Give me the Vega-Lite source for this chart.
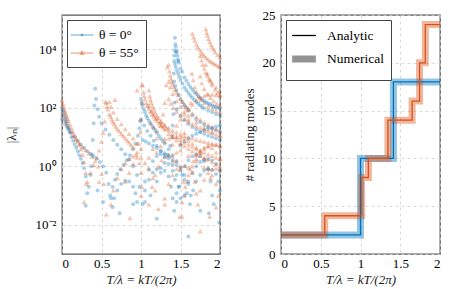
{
"$schema": "https://vega.github.io/schema/vega-lite/v6.json",
"background": "white",
"padding": {"left": 4, "top": 8, "right": 3, "bottom": 1},
"spacing": 18,
"config": {
  "font": "Times New Roman, Liberation Serif, serif",
  "view": {"stroke": "#555", "strokeWidth": 1.3},
  "axis": {"labelFont": "Times New Roman, Liberation Serif, serif", "titleFont": "Times New Roman, Liberation Serif, serif", "labelFontSize": 13, "titleFontSize": 13, "titleFontWeight": "normal", "labelColor": "#000", "titleColor": "#222", "domain": false, "ticks": false, "gridDash": [3, 3], "gridColor": "#cfcfcf", "gridWidth": 0.8, "labelPadding": 6},
  "axisX": {"labelPadding": 3, "titlePadding": 3},
  "legend": {"labelFont": "Times New Roman, Liberation Serif, serif", "labelFontSize": 13.5, "labelColor": "#000"}
},
"resolve": {"scale": {"color": "independent", "shape": "independent", "opacity": "independent", "strokeWidth": "independent"}},
"hconcat": [
{
  "width": 158, "height": 239,
  "data": {"values": [
{"t":0,"l":100,"g":"θ = 0°"},{"t":0.01,"l":80,"g":"θ = 0°"},{"t":0.02,"l":65,"g":"θ = 0°"},{"t":0.03,"l":52,"g":"θ = 0°"},{"t":0.04,"l":42,"g":"θ = 0°"},{"t":0.05,"l":35,"g":"θ = 0°"},{"t":0.06,"l":29,"g":"θ = 0°"},{"t":0.07,"l":24,"g":"θ = 0°"},{"t":0.08,"l":20,"g":"θ = 0°"},{"t":0.09,"l":17,"g":"θ = 0°"},{"t":0.1,"l":14,"g":"θ = 0°"},{"t":0.12,"l":10,"g":"θ = 0°"},{"t":0.14,"l":7.5,"g":"θ = 0°"},{"t":0.16,"l":5.6,"g":"θ = 0°"},{"t":0.18,"l":4.3,"g":"θ = 0°"},{"t":0.2,"l":3.2,"g":"θ = 0°"},{"t":0.22,"l":2.4,"g":"θ = 0°"},{"t":0.24,"l":1.8,"g":"θ = 0°"},{"t":0.26,"l":1.3,"g":"θ = 0°"},{"t":0.28,"l":0.85,"g":"θ = 0°"},{"t":0.3,"l":0.45,"g":"θ = 0°"},{"t":0.32,"l":0.12,"g":"θ = 0°"},
{"t":0,"l":40,"g":"θ = 0°"},{"t":0.04,"l":28,"g":"θ = 0°"},{"t":0.08,"l":20,"g":"θ = 0°"},{"t":0.12,"l":14,"g":"θ = 0°"},{"t":0.16,"l":10,"g":"θ = 0°"},{"t":0.2,"l":7.5,"g":"θ = 0°"},{"t":0.24,"l":5.6,"g":"θ = 0°"},{"t":0.28,"l":4.3,"g":"θ = 0°"},{"t":0.32,"l":3.3,"g":"θ = 0°"},{"t":0.36,"l":2.7,"g":"θ = 0°"},{"t":0.4,"l":2.2,"g":"θ = 0°"},{"t":0.44,"l":1.8,"g":"θ = 0°"},{"t":0.48,"l":1.4,"g":"θ = 0°"},{"t":0.52,"l":1,"g":"θ = 0°"},{"t":0.56,"l":0.6,"g":"θ = 0°"},{"t":0.59,"l":0.25,"g":"θ = 0°"},{"t":0.61,"l":0.1,"g":"θ = 0°"},
{"t":0.34,"l":0.2,"g":"θ = 0°"},{"t":0.36,"l":0.5,"g":"θ = 0°"},{"t":0.37,"l":1,"g":"θ = 0°"},{"t":0.38,"l":2.5,"g":"θ = 0°"},{"t":0.39,"l":8,"g":"θ = 0°"},{"t":0.4,"l":30,"g":"θ = 0°"},{"t":0.41,"l":120,"g":"θ = 0°"},{"t":0.42,"l":450,"g":"θ = 0°"},{"t":0.43,"l":200,"g":"θ = 0°"},{"t":0.45,"l":90,"g":"θ = 0°"},{"t":0.47,"l":50,"g":"θ = 0°"},{"t":0.5,"l":30,"g":"θ = 0°"},{"t":0.55,"l":18,"g":"θ = 0°"},{"t":0.6,"l":12,"g":"θ = 0°"},{"t":0.65,"l":8,"g":"θ = 0°"},{"t":0.7,"l":5.5,"g":"θ = 0°"},{"t":0.75,"l":3.8,"g":"θ = 0°"},{"t":0.8,"l":2.6,"g":"θ = 0°"},{"t":0.85,"l":1.7,"g":"θ = 0°"},{"t":0.9,"l":1,"g":"θ = 0°"},{"t":0.95,"l":0.5,"g":"θ = 0°"},{"t":0.98,"l":0.2,"g":"θ = 0°"},
{"t":0.62,"l":0.08,"g":"θ = 0°"},{"t":0.64,"l":0.2,"g":"θ = 0°"},{"t":0.67,"l":0.35,"g":"θ = 0°"},{"t":0.7,"l":0.55,"g":"θ = 0°"},{"t":0.74,"l":0.8,"g":"θ = 0°"},{"t":0.78,"l":1.1,"g":"θ = 0°"},{"t":0.82,"l":1.6,"g":"θ = 0°"},{"t":0.86,"l":2.4,"g":"θ = 0°"},{"t":0.9,"l":3.8,"g":"θ = 0°"},{"t":0.93,"l":6,"g":"θ = 0°"},{"t":0.96,"l":11,"g":"θ = 0°"},{"t":0.98,"l":20,"g":"θ = 0°"},{"t":0.99,"l":35,"g":"θ = 0°"},
{"t":0.64,"l":0.04,"g":"θ = 0°"},{"t":0.66,"l":0.08,"g":"θ = 0°"},{"t":0.7,"l":0.15,"g":"θ = 0°"},{"t":0.75,"l":0.25,"g":"θ = 0°"},{"t":0.8,"l":0.32,"g":"θ = 0°"},{"t":0.85,"l":0.3,"g":"θ = 0°"},{"t":0.9,"l":0.2,"g":"θ = 0°"},{"t":0.93,"l":0.12,"g":"θ = 0°"},{"t":0.95,"l":0.06,"g":"θ = 0°"},
{"t":1,"l":200,"g":"θ = 0°"},{"t":1.01,"l":150,"g":"θ = 0°"},{"t":1.02,"l":120,"g":"θ = 0°"},{"t":1.035,"l":90,"g":"θ = 0°"},{"t":1.05,"l":70,"g":"θ = 0°"},{"t":1.065,"l":55,"g":"θ = 0°"},{"t":1.08,"l":45,"g":"θ = 0°"},{"t":1.1,"l":36,"g":"θ = 0°"},{"t":1.12,"l":30,"g":"θ = 0°"},{"t":1.14,"l":24,"g":"θ = 0°"},{"t":1.16,"l":20,"g":"θ = 0°"},{"t":1.18,"l":17,"g":"θ = 0°"},{"t":1.2,"l":14,"g":"θ = 0°"},{"t":1.225,"l":11,"g":"θ = 0°"},{"t":1.25,"l":9,"g":"θ = 0°"},{"t":1.275,"l":7.3,"g":"θ = 0°"},{"t":1.3,"l":6,"g":"θ = 0°"},{"t":1.35,"l":3.8,"g":"θ = 0°"},{"t":1.4,"l":2.4,"g":"θ = 0°"},{"t":1.45,"l":1.5,"g":"θ = 0°"},{"t":1.5,"l":0.9,"g":"θ = 0°"},{"t":1.55,"l":0.5,"g":"θ = 0°"},{"t":1.6,"l":0.25,"g":"θ = 0°"},{"t":1.63,"l":0.1,"g":"θ = 0°"},
{"t":1,"l":40,"g":"θ = 0°"},{"t":1.04,"l":25,"g":"θ = 0°"},{"t":1.08,"l":16,"g":"θ = 0°"},{"t":1.12,"l":11,"g":"θ = 0°"},{"t":1.16,"l":7.5,"g":"θ = 0°"},{"t":1.2,"l":5,"g":"θ = 0°"},{"t":1.25,"l":3.2,"g":"θ = 0°"},{"t":1.3,"l":2,"g":"θ = 0°"},{"t":1.35,"l":1.2,"g":"θ = 0°"},{"t":1.4,"l":0.7,"g":"θ = 0°"},{"t":1.43,"l":0.35,"g":"θ = 0°"},{"t":1.45,"l":0.12,"g":"θ = 0°"},
{"t":1.02,"l":0.05,"g":"θ = 0°"},{"t":1.05,"l":0.15,"g":"θ = 0°"},{"t":1.1,"l":0.35,"g":"θ = 0°"},{"t":1.15,"l":0.6,"g":"θ = 0°"},{"t":1.2,"l":0.8,"g":"θ = 0°"},{"t":1.25,"l":0.85,"g":"θ = 0°"},{"t":1.3,"l":0.7,"g":"θ = 0°"},{"t":1.35,"l":0.45,"g":"θ = 0°"},{"t":1.38,"l":0.2,"g":"θ = 0°"},{"t":1.4,"l":0.08,"g":"θ = 0°"},
{"t":1.05,"l":0.3,"g":"θ = 0°"},{"t":1.1,"l":0.8,"g":"θ = 0°"},{"t":1.15,"l":1.5,"g":"θ = 0°"},{"t":1.2,"l":2.2,"g":"θ = 0°"},{"t":1.25,"l":2.6,"g":"θ = 0°"},{"t":1.3,"l":2.5,"g":"θ = 0°"},{"t":1.35,"l":1.9,"g":"θ = 0°"},{"t":1.4,"l":1.1,"g":"θ = 0°"},{"t":1.45,"l":0.5,"g":"θ = 0°"},{"t":1.48,"l":0.2,"g":"θ = 0°"},
{"t":1.2,"l":0.3,"g":"θ = 0°"},{"t":1.25,"l":0.6,"g":"θ = 0°"},{"t":1.3,"l":1.3,"g":"θ = 0°"},{"t":1.34,"l":2.5,"g":"θ = 0°"},{"t":1.37,"l":5,"g":"θ = 0°"},{"t":1.39,"l":10,"g":"θ = 0°"},{"t":1.4,"l":25,"g":"θ = 0°"},{"t":1.41,"l":60,"g":"θ = 0°"},
{"t":1.43,"l":25000,"g":"θ = 0°"},{"t":1.44,"l":12000,"g":"θ = 0°"},{"t":1.45,"l":8500,"g":"θ = 0°"},{"t":1.46,"l":6000,"g":"θ = 0°"},{"t":1.47,"l":4500,"g":"θ = 0°"},{"t":1.48,"l":3500,"g":"θ = 0°"},{"t":1.5,"l":2200,"g":"θ = 0°"},{"t":1.52,"l":1700,"g":"θ = 0°"},{"t":1.55,"l":1100,"g":"θ = 0°"},{"t":1.575,"l":850,"g":"θ = 0°"},{"t":1.6,"l":650,"g":"θ = 0°"},{"t":1.625,"l":520,"g":"θ = 0°"},{"t":1.65,"l":420,"g":"θ = 0°"},{"t":1.675,"l":350,"g":"θ = 0°"},{"t":1.7,"l":300,"g":"θ = 0°"},{"t":1.725,"l":255,"g":"θ = 0°"},{"t":1.75,"l":220,"g":"θ = 0°"},{"t":1.775,"l":190,"g":"θ = 0°"},{"t":1.8,"l":170,"g":"θ = 0°"},{"t":1.825,"l":155,"g":"θ = 0°"},{"t":1.85,"l":140,"g":"θ = 0°"},{"t":1.875,"l":130,"g":"θ = 0°"},{"t":1.9,"l":120,"g":"θ = 0°"},{"t":1.925,"l":112,"g":"θ = 0°"},{"t":1.95,"l":105,"g":"θ = 0°"},{"t":1.975,"l":100,"g":"θ = 0°"},{"t":2,"l":95,"g":"θ = 0°"},
{"t":1.42,"l":4000,"g":"θ = 0°"},{"t":1.43,"l":3200,"g":"θ = 0°"},{"t":1.44,"l":2500,"g":"θ = 0°"},{"t":1.455,"l":1900,"g":"θ = 0°"},{"t":1.47,"l":1500,"g":"θ = 0°"},{"t":1.485,"l":1150,"g":"θ = 0°"},{"t":1.5,"l":900,"g":"θ = 0°"},{"t":1.525,"l":680,"g":"θ = 0°"},{"t":1.55,"l":500,"g":"θ = 0°"},{"t":1.575,"l":400,"g":"θ = 0°"},{"t":1.6,"l":320,"g":"θ = 0°"},{"t":1.625,"l":265,"g":"θ = 0°"},{"t":1.65,"l":220,"g":"θ = 0°"},{"t":1.675,"l":185,"g":"θ = 0°"},{"t":1.7,"l":160,"g":"θ = 0°"},{"t":1.725,"l":138,"g":"θ = 0°"},{"t":1.75,"l":120,"g":"θ = 0°"},{"t":1.775,"l":106,"g":"θ = 0°"},{"t":1.8,"l":95,"g":"θ = 0°"},{"t":1.85,"l":80,"g":"θ = 0°"},{"t":1.9,"l":70,"g":"θ = 0°"},{"t":1.95,"l":60,"g":"θ = 0°"},{"t":2,"l":55,"g":"θ = 0°"},
{"t":1.42,"l":800,"g":"θ = 0°"},{"t":1.435,"l":560,"g":"θ = 0°"},{"t":1.45,"l":400,"g":"θ = 0°"},{"t":1.475,"l":280,"g":"θ = 0°"},{"t":1.5,"l":200,"g":"θ = 0°"},{"t":1.525,"l":155,"g":"θ = 0°"},{"t":1.55,"l":120,"g":"θ = 0°"},{"t":1.575,"l":98,"g":"θ = 0°"},{"t":1.6,"l":80,"g":"θ = 0°"},{"t":1.65,"l":55,"g":"θ = 0°"},{"t":1.7,"l":40,"g":"θ = 0°"},{"t":1.75,"l":32,"g":"θ = 0°"},{"t":1.8,"l":26,"g":"θ = 0°"},{"t":1.85,"l":22,"g":"θ = 0°"},{"t":1.9,"l":19,"g":"θ = 0°"},{"t":1.95,"l":17,"g":"θ = 0°"},{"t":2,"l":15,"g":"θ = 0°"},
{"t":1.42,"l":150,"g":"θ = 0°"},{"t":1.45,"l":90,"g":"θ = 0°"},{"t":1.5,"l":55,"g":"θ = 0°"},{"t":1.55,"l":38,"g":"θ = 0°"},{"t":1.6,"l":28,"g":"θ = 0°"},{"t":1.65,"l":22,"g":"θ = 0°"},{"t":1.7,"l":18,"g":"θ = 0°"},{"t":1.75,"l":15,"g":"θ = 0°"},{"t":1.8,"l":13,"g":"θ = 0°"},{"t":1.85,"l":11,"g":"θ = 0°"},{"t":1.9,"l":10,"g":"θ = 0°"},{"t":1.95,"l":9,"g":"θ = 0°"},{"t":2,"l":8,"g":"θ = 0°"},
{"t":1.02,"l":8,"g":"θ = 0°"},{"t":1.06,"l":7,"g":"θ = 0°"},{"t":1.1,"l":6,"g":"θ = 0°"},{"t":1.15,"l":5,"g":"θ = 0°"},{"t":1.2,"l":4.2,"g":"θ = 0°"},{"t":1.25,"l":3.5,"g":"θ = 0°"},{"t":1.3,"l":2.8,"g":"θ = 0°"},{"t":1.35,"l":2.2,"g":"θ = 0°"},{"t":1.4,"l":1.6,"g":"θ = 0°"},{"t":1.45,"l":1.1,"g":"θ = 0°"},{"t":1.5,"l":0.7,"g":"θ = 0°"},{"t":1.55,"l":0.35,"g":"θ = 0°"},{"t":1.58,"l":0.12,"g":"θ = 0°"},
{"t":1.5,"l":5,"g":"θ = 0°"},{"t":1.55,"l":7,"g":"θ = 0°"},{"t":1.6,"l":9,"g":"θ = 0°"},{"t":1.65,"l":11,"g":"θ = 0°"},{"t":1.7,"l":13,"g":"θ = 0°"},{"t":1.75,"l":15,"g":"θ = 0°"},{"t":1.8,"l":17,"g":"θ = 0°"},{"t":1.85,"l":19,"g":"θ = 0°"},{"t":1.9,"l":21,"g":"θ = 0°"},{"t":1.95,"l":23,"g":"θ = 0°"},{"t":2,"l":25,"g":"θ = 0°"},
{"t":1.45,"l":0.06,"g":"θ = 0°"},{"t":1.48,"l":0.2,"g":"θ = 0°"},{"t":1.52,"l":0.5,"g":"θ = 0°"},{"t":1.56,"l":1,"g":"θ = 0°"},{"t":1.6,"l":1.6,"g":"θ = 0°"},{"t":1.65,"l":2.2,"g":"θ = 0°"},{"t":1.7,"l":2.5,"g":"θ = 0°"},{"t":1.75,"l":2.2,"g":"θ = 0°"},{"t":1.8,"l":1.5,"g":"θ = 0°"},{"t":1.85,"l":0.8,"g":"θ = 0°"},{"t":1.88,"l":0.3,"g":"θ = 0°"},{"t":1.9,"l":0.1,"g":"θ = 0°"},
{"t":1.55,"l":0.1,"g":"θ = 0°"},{"t":1.6,"l":0.3,"g":"θ = 0°"},{"t":1.65,"l":0.6,"g":"θ = 0°"},{"t":1.7,"l":1,"g":"θ = 0°"},{"t":1.75,"l":1.4,"g":"θ = 0°"},{"t":1.8,"l":1.7,"g":"θ = 0°"},{"t":1.85,"l":1.8,"g":"θ = 0°"},{"t":1.9,"l":1.6,"g":"θ = 0°"},{"t":1.95,"l":1.2,"g":"θ = 0°"},{"t":2,"l":0.7,"g":"θ = 0°"},
{"t":1.62,"l":0.05,"g":"θ = 0°"},{"t":1.66,"l":0.15,"g":"θ = 0°"},{"t":1.7,"l":0.3,"g":"θ = 0°"},{"t":1.75,"l":0.5,"g":"θ = 0°"},{"t":1.8,"l":0.7,"g":"θ = 0°"},{"t":1.85,"l":0.8,"g":"θ = 0°"},{"t":1.9,"l":0.75,"g":"θ = 0°"},{"t":1.95,"l":0.55,"g":"θ = 0°"},{"t":1.98,"l":0.3,"g":"θ = 0°"},{"t":2,"l":0.15,"g":"θ = 0°"},
{"t":1.415,"l":1500,"g":"θ = 0°"},{"t":1.42,"l":6000,"g":"θ = 0°"},{"t":1.425,"l":9000,"g":"θ = 0°"},{"t":1.435,"l":15000,"g":"θ = 0°"},{"t":1.45,"l":8000,"g":"θ = 0°"},{"t":1.47,"l":4000,"g":"θ = 0°"},
{"t":0.3,"l":0.045,"g":"θ = 0°"},{"t":0.45,"l":0.15,"g":"θ = 0°"},{"t":0.52,"l":0.06,"g":"θ = 0°"},{"t":0.73,"l":0.025,"g":"θ = 0°"},{"t":0.9,"l":0.05,"g":"θ = 0°"},{"t":1.05,"l":0.06,"g":"θ = 0°"},{"t":1.12,"l":0.1,"g":"θ = 0°"},{"t":1.2,"l":0.016,"g":"θ = 0°"},{"t":1.42,"l":0.03,"g":"θ = 0°"},{"t":1.5,"l":0.08,"g":"θ = 0°"},{"t":1.6,"l":0.004,"g":"θ = 0°"},{"t":1.75,"l":0.03,"g":"θ = 0°"},{"t":1.86,"l":0.025,"g":"θ = 0°"},{"t":1.99,"l":0.012,"g":"θ = 0°"},{"t":1.92,"l":0.05,"g":"θ = 0°"},
{"t":0,"l":180,"g":"θ = 55°"},{"t":0.01,"l":140,"g":"θ = 55°"},{"t":0.02,"l":110,"g":"θ = 55°"},{"t":0.03,"l":88,"g":"θ = 55°"},{"t":0.04,"l":72,"g":"θ = 55°"},{"t":0.05,"l":60,"g":"θ = 55°"},{"t":0.06,"l":50,"g":"θ = 55°"},{"t":0.07,"l":42,"g":"θ = 55°"},{"t":0.08,"l":36,"g":"θ = 55°"},{"t":0.1,"l":27,"g":"θ = 55°"},{"t":0.12,"l":20,"g":"θ = 55°"},{"t":0.14,"l":15,"g":"θ = 55°"},{"t":0.16,"l":11.5,"g":"θ = 55°"},{"t":0.18,"l":9,"g":"θ = 55°"},{"t":0.2,"l":7,"g":"θ = 55°"},{"t":0.22,"l":5.3,"g":"θ = 55°"},{"t":0.24,"l":3.8,"g":"θ = 55°"},{"t":0.26,"l":2.5,"g":"θ = 55°"},{"t":0.28,"l":1.4,"g":"θ = 55°"},{"t":0.3,"l":0.6,"g":"θ = 55°"},{"t":0.31,"l":0.25,"g":"θ = 55°"},
{"t":0,"l":60,"g":"θ = 55°"},{"t":0.03,"l":38,"g":"θ = 55°"},{"t":0.06,"l":25,"g":"θ = 55°"},{"t":0.1,"l":16,"g":"θ = 55°"},{"t":0.14,"l":11,"g":"θ = 55°"},{"t":0.18,"l":8,"g":"θ = 55°"},{"t":0.22,"l":6,"g":"θ = 55°"},{"t":0.26,"l":4.6,"g":"θ = 55°"},{"t":0.3,"l":3.6,"g":"θ = 55°"},{"t":0.34,"l":2.8,"g":"θ = 55°"},{"t":0.38,"l":2.1,"g":"θ = 55°"},{"t":0.42,"l":1.5,"g":"θ = 55°"},{"t":0.46,"l":1,"g":"θ = 55°"},{"t":0.5,"l":0.55,"g":"θ = 55°"},{"t":0.53,"l":0.25,"g":"θ = 55°"},
{"t":0.32,"l":0.3,"g":"θ = 55°"},{"t":0.36,"l":0.6,"g":"θ = 55°"},{"t":0.4,"l":1.1,"g":"θ = 55°"},{"t":0.44,"l":2,"g":"θ = 55°"},{"t":0.47,"l":3.5,"g":"θ = 55°"},{"t":0.5,"l":7,"g":"θ = 55°"},{"t":0.52,"l":14,"g":"θ = 55°"},{"t":0.54,"l":35,"g":"θ = 55°"},{"t":0.55,"l":160,"g":"θ = 55°"},
{"t":0.56,"l":150,"g":"θ = 55°"},{"t":0.57,"l":115,"g":"θ = 55°"},{"t":0.58,"l":90,"g":"θ = 55°"},{"t":0.6,"l":60,"g":"θ = 55°"},{"t":0.615,"l":50,"g":"θ = 55°"},{"t":0.63,"l":40,"g":"θ = 55°"},{"t":0.645,"l":33,"g":"θ = 55°"},{"t":0.66,"l":28,"g":"θ = 55°"},{"t":0.68,"l":23,"g":"θ = 55°"},{"t":0.7,"l":19,"g":"θ = 55°"},{"t":0.725,"l":16,"g":"θ = 55°"},{"t":0.75,"l":13,"g":"θ = 55°"},{"t":0.775,"l":11,"g":"θ = 55°"},{"t":0.8,"l":9,"g":"θ = 55°"},{"t":0.825,"l":7.6,"g":"θ = 55°"},{"t":0.85,"l":6.5,"g":"θ = 55°"},{"t":0.875,"l":5.4,"g":"θ = 55°"},{"t":0.9,"l":4.5,"g":"θ = 55°"},{"t":0.95,"l":3,"g":"θ = 55°"},{"t":1,"l":2,"g":"θ = 55°"},{"t":1.05,"l":1.3,"g":"θ = 55°"},{"t":1.1,"l":0.8,"g":"θ = 55°"},{"t":1.15,"l":0.4,"g":"θ = 55°"},{"t":1.18,"l":0.15,"g":"θ = 55°"},
{"t":0.6,"l":160,"g":"θ = 55°"},{"t":0.62,"l":110,"g":"θ = 55°"},{"t":0.65,"l":70,"g":"θ = 55°"},{"t":0.7,"l":42,"g":"θ = 55°"},{"t":0.75,"l":28,"g":"θ = 55°"},{"t":0.8,"l":19,"g":"θ = 55°"},{"t":0.85,"l":13,"g":"θ = 55°"},{"t":0.9,"l":9,"g":"θ = 55°"},{"t":0.95,"l":6,"g":"θ = 55°"},{"t":1,"l":4,"g":"θ = 55°"},
{"t":0.62,"l":0.05,"g":"θ = 55°"},{"t":0.65,"l":0.15,"g":"θ = 55°"},{"t":0.7,"l":0.4,"g":"θ = 55°"},{"t":0.75,"l":0.8,"g":"θ = 55°"},{"t":0.8,"l":1.3,"g":"θ = 55°"},{"t":0.85,"l":1.8,"g":"θ = 55°"},{"t":0.9,"l":2.2,"g":"θ = 55°"},{"t":0.95,"l":2,"g":"θ = 55°"},{"t":0.98,"l":1.3,"g":"θ = 55°"},{"t":1,"l":0.6,"g":"θ = 55°"},{"t":1.01,"l":0.2,"g":"θ = 55°"},
{"t":0.8,"l":0.3,"g":"θ = 55°"},{"t":0.85,"l":0.6,"g":"θ = 55°"},{"t":0.9,"l":1.2,"g":"θ = 55°"},{"t":0.94,"l":2.5,"g":"θ = 55°"},{"t":0.97,"l":6,"g":"θ = 55°"},{"t":0.99,"l":15,"g":"θ = 55°"},{"t":1,"l":40,"g":"θ = 55°"},{"t":1.01,"l":150,"g":"θ = 55°"},{"t":1.012,"l":600,"g":"θ = 55°"},
{"t":1.02,"l":600,"g":"θ = 55°"},{"t":1.03,"l":350,"g":"θ = 55°"},{"t":1.04,"l":260,"g":"θ = 55°"},{"t":1.05,"l":200,"g":"θ = 55°"},{"t":1.065,"l":150,"g":"θ = 55°"},{"t":1.08,"l":120,"g":"θ = 55°"},{"t":1.1,"l":95,"g":"θ = 55°"},{"t":1.12,"l":75,"g":"θ = 55°"},{"t":1.14,"l":60,"g":"θ = 55°"},{"t":1.16,"l":50,"g":"θ = 55°"},{"t":1.18,"l":42,"g":"θ = 55°"},{"t":1.2,"l":36,"g":"θ = 55°"},{"t":1.225,"l":30,"g":"θ = 55°"},{"t":1.25,"l":25,"g":"θ = 55°"},{"t":1.275,"l":21,"g":"θ = 55°"},{"t":1.3,"l":18,"g":"θ = 55°"},{"t":1.35,"l":13,"g":"θ = 55°"},{"t":1.4,"l":10,"g":"θ = 55°"},{"t":1.45,"l":7.8,"g":"θ = 55°"},{"t":1.5,"l":6,"g":"θ = 55°"},{"t":1.55,"l":4.9,"g":"θ = 55°"},{"t":1.6,"l":4,"g":"θ = 55°"},{"t":1.65,"l":3.3,"g":"θ = 55°"},{"t":1.7,"l":2.8,"g":"θ = 55°"},{"t":1.75,"l":2.4,"g":"θ = 55°"},{"t":1.8,"l":2,"g":"θ = 55°"},{"t":1.85,"l":1.7,"g":"θ = 55°"},{"t":1.9,"l":1.4,"g":"θ = 55°"},{"t":1.95,"l":1.2,"g":"θ = 55°"},{"t":2,"l":1,"g":"θ = 55°"},
{"t":1.1,"l":2,"g":"θ = 55°"},{"t":1.15,"l":4,"g":"θ = 55°"},{"t":1.2,"l":9,"g":"θ = 55°"},{"t":1.25,"l":25,"g":"θ = 55°"},{"t":1.28,"l":60,"g":"θ = 55°"},{"t":1.3,"l":150,"g":"θ = 55°"},{"t":1.32,"l":600,"g":"θ = 55°"},{"t":1.335,"l":2500,"g":"θ = 55°"},
{"t":1.1,"l":400,"g":"θ = 55°"},{"t":1.11,"l":250,"g":"θ = 55°"},{"t":1.12,"l":190,"g":"θ = 55°"},{"t":1.13,"l":150,"g":"θ = 55°"},{"t":1.145,"l":115,"g":"θ = 55°"},{"t":1.16,"l":90,"g":"θ = 55°"},{"t":1.18,"l":70,"g":"θ = 55°"},{"t":1.2,"l":55,"g":"θ = 55°"},{"t":1.225,"l":44,"g":"θ = 55°"},{"t":1.25,"l":35,"g":"θ = 55°"},{"t":1.275,"l":29,"g":"θ = 55°"},{"t":1.3,"l":24,"g":"θ = 55°"},{"t":1.325,"l":20,"g":"θ = 55°"},{"t":1.35,"l":17,"g":"θ = 55°"},{"t":1.4,"l":13,"g":"θ = 55°"},{"t":1.45,"l":10,"g":"θ = 55°"},{"t":1.5,"l":8,"g":"θ = 55°"},{"t":1.55,"l":6.6,"g":"θ = 55°"},{"t":1.6,"l":5.5,"g":"θ = 55°"},{"t":1.65,"l":4.7,"g":"θ = 55°"},{"t":1.7,"l":4,"g":"θ = 55°"},{"t":1.75,"l":3.5,"g":"θ = 55°"},{"t":1.8,"l":3,"g":"θ = 55°"},{"t":1.85,"l":2.6,"g":"θ = 55°"},{"t":1.9,"l":2.3,"g":"θ = 55°"},{"t":1.95,"l":2,"g":"θ = 55°"},{"t":2,"l":1.8,"g":"θ = 55°"},
{"t":1.1,"l":120,"g":"θ = 55°"},{"t":1.13,"l":80,"g":"θ = 55°"},{"t":1.16,"l":60,"g":"θ = 55°"},{"t":1.2,"l":45,"g":"θ = 55°"},{"t":1.25,"l":33,"g":"θ = 55°"},{"t":1.3,"l":26,"g":"θ = 55°"},{"t":1.35,"l":21,"g":"θ = 55°"},{"t":1.4,"l":17,"g":"θ = 55°"},{"t":1.45,"l":14.5,"g":"θ = 55°"},{"t":1.5,"l":12.5,"g":"θ = 55°"},{"t":1.55,"l":11,"g":"θ = 55°"},{"t":1.6,"l":10,"g":"θ = 55°"},{"t":1.65,"l":9,"g":"θ = 55°"},{"t":1.7,"l":8.2,"g":"θ = 55°"},{"t":1.75,"l":7.5,"g":"θ = 55°"},{"t":1.8,"l":7,"g":"θ = 55°"},{"t":1.85,"l":6.5,"g":"θ = 55°"},{"t":1.9,"l":6,"g":"θ = 55°"},{"t":1.95,"l":5.6,"g":"θ = 55°"},{"t":2,"l":5.2,"g":"θ = 55°"},
{"t":1.35,"l":3000,"g":"θ = 55°"},{"t":1.36,"l":1800,"g":"θ = 55°"},{"t":1.37,"l":1300,"g":"θ = 55°"},{"t":1.38,"l":1000,"g":"θ = 55°"},{"t":1.39,"l":800,"g":"θ = 55°"},{"t":1.4,"l":650,"g":"θ = 55°"},{"t":1.415,"l":520,"g":"θ = 55°"},{"t":1.43,"l":420,"g":"θ = 55°"},{"t":1.45,"l":340,"g":"θ = 55°"},{"t":1.47,"l":280,"g":"θ = 55°"},{"t":1.5,"l":200,"g":"θ = 55°"},{"t":1.525,"l":160,"g":"θ = 55°"},{"t":1.55,"l":130,"g":"θ = 55°"},{"t":1.575,"l":108,"g":"θ = 55°"},{"t":1.6,"l":90,"g":"θ = 55°"},{"t":1.65,"l":66,"g":"θ = 55°"},{"t":1.7,"l":50,"g":"θ = 55°"},{"t":1.75,"l":40,"g":"θ = 55°"},{"t":1.8,"l":32,"g":"θ = 55°"},{"t":1.85,"l":26,"g":"θ = 55°"},{"t":1.9,"l":22,"g":"θ = 55°"},{"t":1.95,"l":19,"g":"θ = 55°"},{"t":2,"l":16,"g":"θ = 55°"},
{"t":1.35,"l":800,"g":"θ = 55°"},{"t":1.37,"l":500,"g":"θ = 55°"},{"t":1.4,"l":300,"g":"θ = 55°"},{"t":1.45,"l":170,"g":"θ = 55°"},{"t":1.5,"l":110,"g":"θ = 55°"},{"t":1.55,"l":75,"g":"θ = 55°"},{"t":1.6,"l":55,"g":"θ = 55°"},{"t":1.7,"l":32,"g":"θ = 55°"},{"t":1.8,"l":21,"g":"θ = 55°"},{"t":1.9,"l":15,"g":"θ = 55°"},{"t":2,"l":11,"g":"θ = 55°"},
{"t":1.35,"l":200,"g":"θ = 55°"},{"t":1.38,"l":140,"g":"θ = 55°"},{"t":1.41,"l":100,"g":"θ = 55°"},{"t":1.45,"l":75,"g":"θ = 55°"},{"t":1.5,"l":55,"g":"θ = 55°"},{"t":1.55,"l":42,"g":"θ = 55°"},{"t":1.6,"l":34,"g":"θ = 55°"},{"t":1.65,"l":28,"g":"θ = 55°"},{"t":1.7,"l":24,"g":"θ = 55°"},{"t":1.75,"l":21,"g":"θ = 55°"},{"t":1.8,"l":18,"g":"θ = 55°"},{"t":1.85,"l":16,"g":"θ = 55°"},{"t":1.9,"l":14,"g":"θ = 55°"},{"t":1.95,"l":12.5,"g":"θ = 55°"},{"t":2,"l":11.5,"g":"θ = 55°"},
{"t":1.65,"l":35000,"g":"θ = 55°"},{"t":1.665,"l":26000,"g":"θ = 55°"},{"t":1.68,"l":20000,"g":"θ = 55°"},{"t":1.7,"l":15000,"g":"θ = 55°"},{"t":1.72,"l":12000,"g":"θ = 55°"},{"t":1.74,"l":9800,"g":"θ = 55°"},{"t":1.76,"l":8000,"g":"θ = 55°"},{"t":1.78,"l":6900,"g":"θ = 55°"},{"t":1.8,"l":6000,"g":"θ = 55°"},{"t":1.825,"l":5200,"g":"θ = 55°"},{"t":1.85,"l":4500,"g":"θ = 55°"},{"t":1.875,"l":4000,"g":"θ = 55°"},{"t":1.9,"l":3600,"g":"θ = 55°"},{"t":1.925,"l":3300,"g":"θ = 55°"},{"t":1.95,"l":3000,"g":"θ = 55°"},{"t":1.975,"l":2700,"g":"θ = 55°"},{"t":2,"l":2500,"g":"θ = 55°"},
{"t":1.82,"l":50000,"g":"θ = 55°"},{"t":1.83,"l":38000,"g":"θ = 55°"},{"t":1.84,"l":30000,"g":"θ = 55°"},{"t":1.855,"l":23000,"g":"θ = 55°"},{"t":1.87,"l":18000,"g":"θ = 55°"},{"t":1.885,"l":14500,"g":"θ = 55°"},{"t":1.9,"l":12000,"g":"θ = 55°"},{"t":1.92,"l":9800,"g":"θ = 55°"},{"t":1.94,"l":8000,"g":"θ = 55°"},{"t":1.97,"l":6500,"g":"θ = 55°"},{"t":2,"l":5500,"g":"θ = 55°"},
{"t":1.75,"l":6000,"g":"θ = 55°"},{"t":1.765,"l":4200,"g":"θ = 55°"},{"t":1.78,"l":3000,"g":"θ = 55°"},{"t":1.8,"l":2200,"g":"θ = 55°"},{"t":1.82,"l":1600,"g":"θ = 55°"},{"t":1.84,"l":1250,"g":"θ = 55°"},{"t":1.86,"l":1000,"g":"θ = 55°"},{"t":1.88,"l":830,"g":"θ = 55°"},{"t":1.9,"l":700,"g":"θ = 55°"},{"t":1.95,"l":500,"g":"θ = 55°"},{"t":2,"l":380,"g":"θ = 55°"},
{"t":1.66,"l":900,"g":"θ = 55°"},{"t":1.68,"l":500,"g":"θ = 55°"},{"t":1.7,"l":350,"g":"θ = 55°"},{"t":1.73,"l":250,"g":"θ = 55°"},{"t":1.76,"l":190,"g":"θ = 55°"},{"t":1.8,"l":150,"g":"θ = 55°"},{"t":1.85,"l":115,"g":"θ = 55°"},{"t":1.9,"l":95,"g":"θ = 55°"},{"t":1.95,"l":80,"g":"θ = 55°"},{"t":2,"l":70,"g":"θ = 55°"},
{"t":1.75,"l":1200,"g":"θ = 55°"},{"t":1.77,"l":700,"g":"θ = 55°"},{"t":1.8,"l":450,"g":"θ = 55°"},{"t":1.84,"l":300,"g":"θ = 55°"},{"t":1.88,"l":220,"g":"θ = 55°"},{"t":1.92,"l":170,"g":"θ = 55°"},{"t":1.96,"l":140,"g":"θ = 55°"},{"t":2,"l":120,"g":"θ = 55°"},
{"t":1.82,"l":3000,"g":"θ = 55°"},{"t":1.84,"l":1500,"g":"θ = 55°"},{"t":1.87,"l":900,"g":"θ = 55°"},{"t":1.9,"l":600,"g":"θ = 55°"},{"t":1.94,"l":420,"g":"θ = 55°"},{"t":1.97,"l":330,"g":"θ = 55°"},{"t":2,"l":280,"g":"θ = 55°"},
{"t":1.45,"l":25,"g":"θ = 55°"},{"t":1.5,"l":40,"g":"θ = 55°"},{"t":1.55,"l":60,"g":"θ = 55°"},{"t":1.6,"l":90,"g":"θ = 55°"},{"t":1.65,"l":130,"g":"θ = 55°"},{"t":1.7,"l":180,"g":"θ = 55°"},{"t":1.75,"l":220,"g":"θ = 55°"},{"t":1.8,"l":260,"g":"θ = 55°"},{"t":1.85,"l":280,"g":"θ = 55°"},{"t":1.9,"l":290,"g":"θ = 55°"},{"t":1.95,"l":280,"g":"θ = 55°"},{"t":2,"l":260,"g":"θ = 55°"},
{"t":1.2,"l":3,"g":"θ = 55°"},{"t":1.25,"l":5,"g":"θ = 55°"},{"t":1.3,"l":7,"g":"θ = 55°"},{"t":1.35,"l":9,"g":"θ = 55°"},{"t":1.4,"l":10,"g":"θ = 55°"},{"t":1.45,"l":10.5,"g":"θ = 55°"},{"t":1.5,"l":10,"g":"θ = 55°"},{"t":1.55,"l":9,"g":"θ = 55°"},{"t":1.6,"l":7.5,"g":"θ = 55°"},{"t":1.65,"l":6,"g":"θ = 55°"},{"t":1.7,"l":4.5,"g":"θ = 55°"},{"t":1.75,"l":3,"g":"θ = 55°"},{"t":1.8,"l":1.8,"g":"θ = 55°"},{"t":1.85,"l":0.9,"g":"θ = 55°"},{"t":1.88,"l":0.4,"g":"θ = 55°"},
{"t":1.1,"l":0.05,"g":"θ = 55°"},{"t":1.14,"l":0.2,"g":"θ = 55°"},{"t":1.18,"l":0.5,"g":"θ = 55°"},{"t":1.22,"l":1,"g":"θ = 55°"},{"t":1.26,"l":1.6,"g":"θ = 55°"},{"t":1.3,"l":2.2,"g":"θ = 55°"},{"t":1.35,"l":2.5,"g":"θ = 55°"},{"t":1.4,"l":2.2,"g":"θ = 55°"},{"t":1.45,"l":1.5,"g":"θ = 55°"},{"t":1.5,"l":0.8,"g":"θ = 55°"},{"t":1.53,"l":0.3,"g":"θ = 55°"},{"t":1.55,"l":0.1,"g":"θ = 55°"},
{"t":1.3,"l":0.08,"g":"θ = 55°"},{"t":1.35,"l":0.25,"g":"θ = 55°"},{"t":1.4,"l":0.5,"g":"θ = 55°"},{"t":1.45,"l":0.8,"g":"θ = 55°"},{"t":1.5,"l":1,"g":"θ = 55°"},{"t":1.55,"l":1.05,"g":"θ = 55°"},{"t":1.6,"l":0.9,"g":"θ = 55°"},{"t":1.65,"l":0.6,"g":"θ = 55°"},{"t":1.68,"l":0.3,"g":"θ = 55°"},{"t":1.7,"l":0.12,"g":"θ = 55°"},
{"t":1.52,"l":0.06,"g":"θ = 55°"},{"t":1.56,"l":0.2,"g":"θ = 55°"},{"t":1.6,"l":0.5,"g":"θ = 55°"},{"t":1.65,"l":1,"g":"θ = 55°"},{"t":1.7,"l":1.8,"g":"θ = 55°"},{"t":1.75,"l":3,"g":"θ = 55°"},{"t":1.8,"l":4,"g":"θ = 55°"},{"t":1.85,"l":5,"g":"θ = 55°"},{"t":1.9,"l":5.5,"g":"θ = 55°"},{"t":1.95,"l":5.5,"g":"θ = 55°"},{"t":2,"l":5,"g":"θ = 55°"},
{"t":1.58,"l":0.3,"g":"θ = 55°"},{"t":1.62,"l":0.8,"g":"θ = 55°"},{"t":1.66,"l":1.5,"g":"θ = 55°"},{"t":1.7,"l":2.4,"g":"θ = 55°"},{"t":1.75,"l":3.5,"g":"θ = 55°"},{"t":1.8,"l":4.5,"g":"θ = 55°"},{"t":1.85,"l":4.8,"g":"θ = 55°"},{"t":1.9,"l":4.2,"g":"θ = 55°"},{"t":1.95,"l":3,"g":"θ = 55°"},{"t":2,"l":1.8,"g":"θ = 55°"},
{"t":1.72,"l":0.05,"g":"θ = 55°"},{"t":1.75,"l":0.15,"g":"θ = 55°"},{"t":1.8,"l":0.35,"g":"θ = 55°"},{"t":1.85,"l":0.6,"g":"θ = 55°"},{"t":1.9,"l":0.8,"g":"θ = 55°"},{"t":1.95,"l":0.85,"g":"θ = 55°"},{"t":2,"l":0.8,"g":"θ = 55°"},
{"t":1.4,"l":1.5,"g":"θ = 55°"},{"t":1.45,"l":3,"g":"θ = 55°"},{"t":1.5,"l":6,"g":"θ = 55°"},{"t":1.55,"l":14,"g":"θ = 55°"},{"t":1.6,"l":40,"g":"θ = 55°"},{"t":1.63,"l":150,"g":"θ = 55°"},{"t":1.645,"l":1500,"g":"θ = 55°"},
{"t":1.12,"l":30,"g":"θ = 55°"},{"t":1.16,"l":22,"g":"θ = 55°"},{"t":1.2,"l":16,"g":"θ = 55°"},{"t":1.3,"l":9,"g":"θ = 55°"},{"t":1.4,"l":5.5,"g":"θ = 55°"},{"t":1.5,"l":3.5,"g":"θ = 55°"},{"t":1.6,"l":2.3,"g":"θ = 55°"},{"t":1.7,"l":1.5,"g":"θ = 55°"},{"t":1.8,"l":0.9,"g":"θ = 55°"},{"t":1.9,"l":0.5,"g":"θ = 55°"},{"t":1.95,"l":0.25,"g":"θ = 55°"},{"t":1.98,"l":0.1,"g":"θ = 55°"},
{"t":0.95,"l":400,"g":"θ = 55°"},{"t":0.67,"l":190,"g":"θ = 55°"},
{"t":0.28,"l":0.06,"g":"θ = 55°"},{"t":0.56,"l":0.023,"g":"θ = 55°"},{"t":0.86,"l":0.017,"g":"θ = 55°"},{"t":1,"l":0.1,"g":"θ = 55°"},{"t":1.22,"l":0.035,"g":"θ = 55°"},{"t":1.49,"l":0.019,"g":"θ = 55°"},{"t":1.52,"l":0.019,"g":"θ = 55°"},{"t":1.75,"l":0.006,"g":"θ = 55°"},{"t":1.87,"l":0.019,"g":"θ = 55°"},{"t":1.95,"l":0.04,"g":"θ = 55°"},{"t":0.47,"l":0.3,"g":"θ = 55°"},{"t":1.3,"l":0.05,"g":"θ = 55°"}
  ]},
  "encoding": {
    "x": {"field": "t", "type": "quantitative", "scale": {"domain": [0, 2], "nice": false}, "axis": {"values": [0, 0.5, 1, 1.5, 2], "format": "~g", "title": "T/λ = kT/(2π)", "titleFontStyle": "italic"}},
    "y": {"field": "l", "type": "quantitative", "scale": {"type": "log", "domain": [0.001, 150000], "nice": false}, "axis": {"values": [0.01, 1, 100, 10000], "labelExpr": "datum.value < 0.1 ? '10⁻²' : datum.value < 10 ? '10⁰' : datum.value < 1000 ? '10²' : '10⁴'", "title": "|λₙ|", "titlePadding": 17}},
    "color": {"field": "g", "type": "nominal", "scale": {"domain": ["θ = 0°", "θ = 55°"], "range": ["#0072BD", "#D95319"]},
      "legend": {"orient": "top-left", "offset": 5, "title": null, "strokeColor": "#444", "fillColor": "white", "padding": 7, "symbolSize": 200, "symbolStrokeWidth": 1.2, "symbolOpacity": 0.6, "rowPadding": 3, "labelOffset": 9}}
  },
  "layer": [
    {"transform": [{"filter": "false"}],
     "mark": {"type": "point", "filled": false, "opacity": 0.6, "strokeWidth": 1.2},
     "encoding": {"shape": {"field": "g", "type": "nominal", "scale": {"domain": ["θ = 0°", "θ = 55°"], "range": ["M-1.6,0H1.6M0.14,0A0.14,0.14 0 1 1 -0.14,0A0.14,0.14 0 1 1 0.14,0Z", "M-1.6,0H1.6M0,-0.25L0.24,0.16L-0.24,0.16Z"]},
       "legend": {"orient": "top-left", "offset": 5, "title": null, "strokeColor": "#444", "fillColor": "white", "padding": 7, "symbolSize": 200, "symbolStrokeWidth": 1.2, "symbolOpacity": 0.6, "rowPadding": 3, "labelOffset": 9}}}},
    {"transform": [{"filter": "datum.g === 'θ = 0°'"}], "mark": {"type": "point", "filled": true, "opacity": 0.33, "size": 16, "shape": "circle"}},
    {"transform": [{"filter": "datum.g === 'θ = 55°'"}], "mark": {"type": "point", "filled": true, "opacity": 0.33, "size": 26, "shape": "triangle-up"}}
  ]
},
{
  "width": 159, "height": 239,
  "data": {"values": [
{"t":0,"n":2,"s":"θ = 0°","k":"Numerical"},{"t":1,"n":10,"s":"θ = 0°","k":"Numerical"},{"t":1.414,"n":18,"s":"θ = 0°","k":"Numerical"},{"t":2,"n":18,"s":"θ = 0°","k":"Numerical"},
{"t":0,"n":2,"s":"θ = 55°","k":"Numerical"},{"t":0.55,"n":4,"s":"θ = 55°","k":"Numerical"},{"t":1.014,"n":8,"s":"θ = 55°","k":"Numerical"},{"t":1.0995,"n":10,"s":"θ = 55°","k":"Numerical"},{"t":1.345,"n":14,"s":"θ = 55°","k":"Numerical"},{"t":1.649,"n":16,"s":"θ = 55°","k":"Numerical"},{"t":1.743,"n":20,"s":"θ = 55°","k":"Numerical"},{"t":1.815,"n":24,"s":"θ = 55°","k":"Numerical"},{"t":2,"n":24,"s":"θ = 55°","k":"Numerical"},
{"t":0,"n":2,"s":"θ = 0°","k":"Analytic"},{"t":1,"n":10,"s":"θ = 0°","k":"Analytic"},{"t":1.414,"n":18,"s":"θ = 0°","k":"Analytic"},{"t":2,"n":18,"s":"θ = 0°","k":"Analytic"},
{"t":0,"n":2,"s":"θ = 55°","k":"Analytic"},{"t":0.55,"n":4,"s":"θ = 55°","k":"Analytic"},{"t":1.014,"n":8,"s":"θ = 55°","k":"Analytic"},{"t":1.0995,"n":10,"s":"θ = 55°","k":"Analytic"},{"t":1.345,"n":14,"s":"θ = 55°","k":"Analytic"},{"t":1.649,"n":16,"s":"θ = 55°","k":"Analytic"},{"t":1.743,"n":20,"s":"θ = 55°","k":"Analytic"},{"t":1.815,"n":24,"s":"θ = 55°","k":"Analytic"},{"t":2,"n":24,"s":"θ = 55°","k":"Analytic"}
  ]},
  "encoding": {
    "x": {"field": "t", "type": "quantitative", "scale": {"domain": [0, 2], "nice": false}, "axis": {"values": [0, 0.5, 1, 1.5, 2], "format": "~g", "title": "T/λ = kT/(2π)", "titleFontStyle": "italic"}},
    "y": {"field": "n", "type": "quantitative", "scale": {"domain": [0, 25], "nice": false}, "axis": {"values": [0, 5, 10, 15, 20, 25], "title": "# radiating modes", "titlePadding": 6}},
    "color": {"field": "s", "type": "nominal", "scale": {"domain": ["θ = 0°", "θ = 55°"], "range": ["#0072BD", "#D95319"]}, "legend": null},
    "detail": {"field": "s"},
    "strokeWidth": {"field": "k", "type": "nominal", "scale": {"domain": ["Analytic", "Numerical"], "range": [1.3, 7]},
      "legend": {"orient": "top-left", "offset": 5, "title": null, "strokeColor": "#444", "fillColor": "white", "padding": 7, "symbolType": "M-1.6,0H1.6", "symbolSize": 220, "symbolStrokeColor": "black", "rowPadding": 3, "labelOffset": 12}},
    "opacity": {"field": "k", "type": "nominal", "scale": {"domain": ["Analytic", "Numerical"], "range": [1, 0.42]},
      "legend": {"orient": "top-left", "offset": 5, "title": null, "strokeColor": "#444", "fillColor": "white", "padding": 7, "symbolType": "M-1.6,0H1.6", "symbolSize": 220, "symbolStrokeColor": "black", "rowPadding": 3, "labelOffset": 12}}
  },
  "layer": [
    {"transform": [{"filter": "datum.k === 'Numerical'"}], "mark": {"type": "line", "interpolate": "step-after", "strokeJoin": "miter", "strokeCap": "butt"}},
    {"transform": [{"filter": "datum.k === 'Analytic'"}], "mark": {"type": "line", "interpolate": "step-after", "strokeJoin": "miter", "strokeCap": "butt"}}
  ]
}
]
}
